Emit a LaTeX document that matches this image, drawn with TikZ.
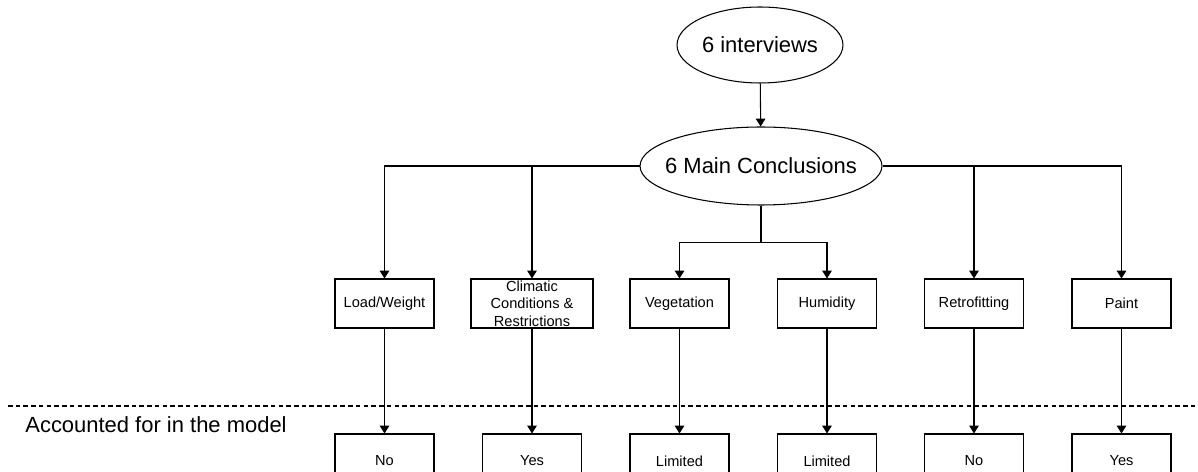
\documentclass[tikz,border=0pt]{standalone}
\usepackage{fontspec}
\setmainfont{Liberation Sans}
\usetikzlibrary{shapes.geometric,arrows.meta}

\tikzset{
  oval/.style={ellipse,draw=black,inner sep=0pt,font=\fontsize{12.5}{15}\selectfont},
  factor/.style={rectangle,draw=black,fill=white,minimum width=1.98cm,minimum height=0.98cm,
    inner sep=0pt,align=center,font=\fontsize{8.3}{9.9}\selectfont},
  answer/.style={factor,minimum height=1.08cm},
  arr/.style={-{Triangle[width=5.5pt,length=4.5pt]}}
}

\begin{document}
\begin{tikzpicture}[x=0.02cm,y=-0.02cm,line width=0.6pt]
\useasboundingbox (0,0) rectangle (1198,472);
\clip (0,0) rectangle (1198,472);

\node[oval,minimum width=3.32cm,minimum height=1.52cm] (iv) at (760,45) {\makebox[1cm]{6 interviews}};
\node[oval,minimum width=4.84cm,minimum height=1.56cm] (mc) at (761,166) {\makebox[1cm]{6 Main Conclusions}};

% conclusions
\node[factor] (load) at (384.5,303.5) {Load/Weight};
\node[factor,minimum width=2.44cm] (clim) at (532,303.5) {Climatic\\Conditions \&\\Restrictions};
\node[factor] (veg) at (679.5,303.5) {Vegetation};
\node[factor] (hum) at (827,303.5) {Humidity};
\node[factor] (retro) at (974,303.5) {Retrofitting};
\node[factor] (paint) at (1121.5,303.5) {Paint};

% model row
\coordinate (dl) at (8,406);
\coordinate (dr) at (1198,406);
\draw[dash pattern=on 2.6pt off 1.8pt] (dl) -- (dr);
\node[anchor=west,font=\fontsize{12.5}{15}\selectfont] (acc) at (19,425) {Accounted for in the model};

\node[answer] (load-m) at (384.5,461) {No};
\node[answer] (clim-m) at (532,461) {Yes};
\node[answer] (veg-m) at (679.5,461) {Limited};
\node[answer] (hum-m) at (827,461) {Limited};
\node[answer] (retro-m) at (974,461) {No};
\node[answer] (paint-m) at (1121.5,461) {Yes};

\draw[arr] (iv) -- (mc);
\draw[arr] (mc.west) -| (load);
\draw[arr] (mc.west) -| (clim);
\draw[arr] (mc.east) -| (retro);
\draw[arr] (mc.east) -| (paint);
\draw (mc.south) -- ++(0,37) coordinate (split);
\draw[arr] (split) -| (veg);
\draw[arr] (split) -| (hum);

\draw[arr] (load) -- (load-m);
\draw[arr] (clim) -- (clim-m);
\draw[arr] (veg) -- (veg-m);
\draw[arr] (hum) -- (hum-m);
\draw[arr] (retro) -- (retro-m);
\draw[arr] (paint) -- (paint-m);
\end{tikzpicture}
\end{document}
